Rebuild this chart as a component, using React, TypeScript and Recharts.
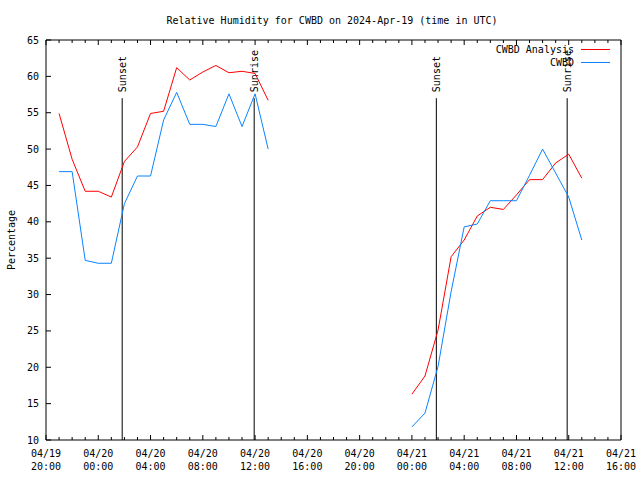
import { LineChart, Line, XAxis, YAxis, ReferenceLine, Legend } from 'recharts';

// hours counted from 04/19 20:00 UTC
const hoursDay1 = [1, 2, 3, 4, 5, 6, 7, 8, 9, 10, 11, 12, 13, 14, 15, 16, 17];
const analysisDay1 = [54.9, 48.6, 44.2, 44.2, 43.4, 48.3, 50.3, 54.9, 55.2, 61.2, 59.5, 60.6, 61.5, 60.5, 60.7, 60.4, 56.7];
const cwbdDay1 = [46.9, 46.9, 34.7, 34.3, 34.3, 42.5, 46.3, 46.3, 54.0, 57.8, 53.4, 53.4, 53.1, 57.6, 53.1, 57.6, 50.0];

const hoursDay2 = [28, 29, 30, 31, 32, 33, 34, 35, 36, 37, 38, 39, 40, 41];
const analysisDay2 = [16.3, 18.8, 25.1, 35.2, 37.5, 40.8, 42.0, 41.7, 43.7, 45.8, 45.8, 48.1, 49.3, 46.0];
const cwbdDay2 = [11.8, 13.7, 20.1, 30.4, 39.3, 39.7, 42.9, 42.9, 42.9, 46.4, 50.0, 46.7, 43.4, 37.5];

const seriesNames = ['CWBD Analysis', 'CWBD'];

// sunset / sunrise markers (hours from 04/19 20:00)
const sunHours = [5.83, 15.93, 29.87, 39.88];
const sunLabels = ['Sunset', 'Sunrise', 'Sunset', 'Sunrise'];

const hourTicks = [0, 1, 2, 3, 4, 5, 6, 7, 8, 9, 10, 11, 12, 13, 14, 15, 16, 17, 18, 19, 20, 21, 22,
  23, 24, 25, 26, 27, 28, 29, 30, 31, 32, 33, 34, 35, 36, 37, 38, 39, 40, 41, 42, 43, 44];
const dateLabels = ['04/19', '04/20', '04/20', '04/20', '04/20', '04/20', '04/20', '04/21', '04/21', '04/21', '04/21', '04/21'];
const timeLabels = ['20:00', '00:00', '04:00', '08:00', '12:00', '16:00', '20:00', '00:00', '04:00', '08:00', '12:00', '16:00'];
const yTicks = [10, 15, 20, 25, 30, 35, 40, 45, 50, 55, 60, 65];

const FONT = '"DejaVu Sans Mono", "Liberation Mono", monospace';

const data = [
  ...hoursDay1.map((h, i) => ({ h, analysis: analysisDay1[i], cwbd: cwbdDay1[i] })),
  { h: 22, analysis: null, cwbd: null },
  ...hoursDay2.map((h, i) => ({ h, analysis: analysisDay2[i], cwbd: cwbdDay2[i] })),
];

const BottomTick = ({ x, y, payload }: any) => {
  const h = payload.value;
  const major = h % 4 === 0;
  return (
    <g>
      <line x1={x} x2={x} y1={y} y2={y - (major ? 5 : 3)} stroke="#000" />
      {major && (
        <text x={x} y={y + 17} textAnchor="middle" fontSize={10} fontFamily={FONT} fill="#000">
          {dateLabels[h / 4]}
        </text>
      )}
      {major && (
        <text x={x} y={y + 30} textAnchor="middle" fontSize={10} fontFamily={FONT} fill="#000">
          {timeLabels[h / 4]}
        </text>
      )}
    </g>
  );
};

const TopTick = ({ x, y, payload }: any) => {
  const major = payload.value % 4 === 0;
  return <line x1={x} x2={x} y1={y} y2={y + (major ? 5 : 3)} stroke="#000" />;
};

const LeftTick = ({ x, y, payload }: any) => (
  <g>
    <line x1={x} x2={x + 5} y1={y} y2={y} stroke="#000" />
    <text x={x - 7} y={y + 3.5} textAnchor="end" fontSize={10} fontFamily={FONT} fill="#000">
      {payload.value}
    </text>
  </g>
);

const RightTick = ({ x, y }: any) => <line x1={x} x2={x - 5} y1={y} y2={y} stroke="#000" />;

const sunLabel = (text: string) => (props: any) => {
  const { x, y } = props.viewBox;
  const ty = y - 6;
  return (
    <text
      x={x}
      y={ty}
      transform={`rotate(-90 ${x} ${ty})`}
      textAnchor="start"
      dominantBaseline="central"
      fontSize={10}
      fontFamily={FONT}
      fill="#000"
    >
      {text}
    </text>
  );
};

const LegendBox = ({ payload }: any) => {
  const items = [...(payload || [])].sort(
    (a: any, b: any) => seriesNames.indexOf(a.value) - seriesNames.indexOf(b.value)
  );
  return (
    <div style={{ fontFamily: FONT, fontSize: 10, color: '#000' }}>
      {items.map((e: any) => (
        <div key={e.value} style={{ display: 'flex', alignItems: 'center', justifyContent: 'flex-end', height: 13 }}>
          <span>{e.value}</span>
          <span style={{ display: 'inline-block', width: 29, height: 1, background: e.color, marginLeft: 7 }} />
        </div>
      ))}
    </div>
  );
};

export default function App() {
  return (
    <div style={{ position: 'absolute', left: 0, top: 0, width: 640, height: 480, background: '#fff' }}>
      <LineChart width={640} height={480} data={data} margin={{ top: 0, right: 0, bottom: 0, left: 0 }}>
        <XAxis
          xAxisId="bottom"
          dataKey="h"
          type="number"
          domain={[0, 44]}
          ticks={hourTicks}
          interval={0}
          height={40}
          tickSize={0}
          tickMargin={0}
          tickLine={false}
          axisLine={{ stroke: '#000' }}
          tick={<BottomTick />}
        />
        <XAxis
          xAxisId="top"
          orientation="top"
          dataKey="h"
          type="number"
          domain={[0, 44]}
          ticks={hourTicks}
          interval={0}
          height={40}
          tickSize={0}
          tickMargin={0}
          tickLine={false}
          axisLine={{ stroke: '#000' }}
          tick={<TopTick />}
        />
        <YAxis
          yAxisId="left"
          type="number"
          domain={[10, 65]}
          ticks={yTicks}
          interval={0}
          width={46}
          tickSize={0}
          tickMargin={0}
          tickLine={false}
          axisLine={{ stroke: '#000' }}
          tick={<LeftTick />}
        />
        <YAxis
          yAxisId="right"
          orientation="right"
          type="number"
          domain={[10, 65]}
          ticks={yTicks}
          interval={0}
          width={19}
          tickSize={0}
          tickMargin={0}
          tickLine={false}
          axisLine={{ stroke: '#000' }}
          tick={<RightTick />}
        />
        {sunHours.map((h, i) => (
          <ReferenceLine
            key={i}
            xAxisId="bottom"
            yAxisId="left"
            segment={[{ x: h, y: 57 }, { x: h, y: 10 }]}
            stroke="#000"
            label={sunLabel(sunLabels[i])}
          />
        ))}
        <Line
          xAxisId="bottom"
          yAxisId="left"
          type="linear"
          dataKey="analysis"
          name={seriesNames[0]}
          stroke="#ff0000"
          strokeWidth={1}
          dot={false}
          isAnimationActive={false}
        />
        <Line
          xAxisId="bottom"
          yAxisId="left"
          type="linear"
          dataKey="cwbd"
          name={seriesNames[1]}
          stroke="#0a84ff"
          strokeWidth={1}
          dot={false}
          isAnimationActive={false}
        />
        <Legend
          layout="vertical"
          align="center"
          verticalAlign="middle"
          content={<LegendBox />}
          wrapperStyle={{ left: 'auto', right: 30, top: 43, width: 'auto', height: 'auto' }}
        />
      </LineChart>
      <svg width={640} height={480} style={{ position: 'absolute', left: 0, top: 0, pointerEvents: 'none' }}>
        <text x={332} y={24} textAnchor="middle" fontSize={10} fontFamily={FONT} fill="#000">
          Relative Humidity for CWBD on 2024-Apr-19 (time in UTC)
        </text>
        <text
          x={11}
          y={240}
          transform="rotate(-90 11 240)"
          textAnchor="middle"
          dominantBaseline="central"
          fontSize={10}
          fontFamily={FONT}
          fill="#000"
        >
          Percentage
        </text>
      </svg>
    </div>
  );
}
